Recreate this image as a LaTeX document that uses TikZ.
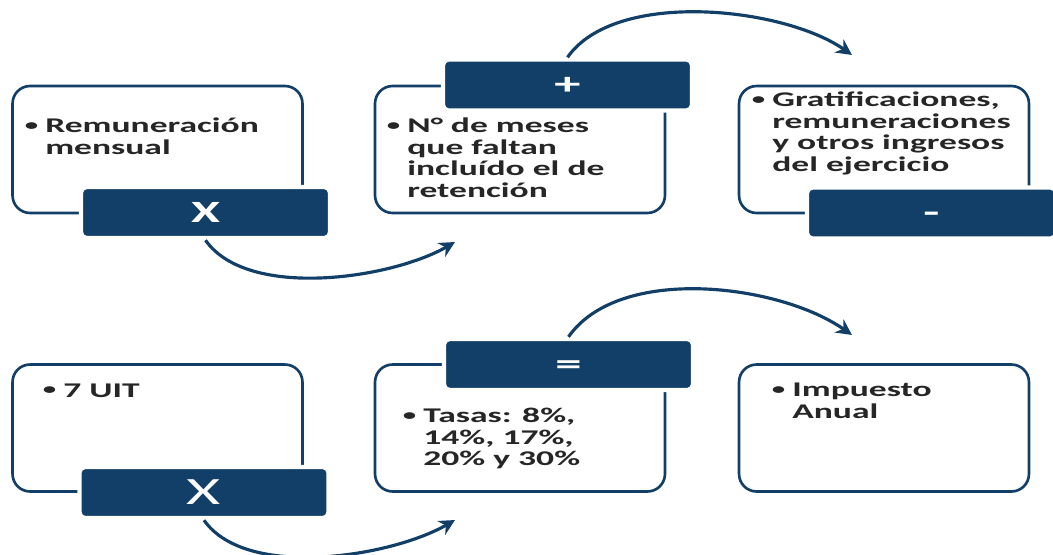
\documentclass[tikz,border=0pt]{standalone}
\usepackage{fontspec}
\setmainfont[FakeStretch=1.7]{Carlito}
\usepackage{tikz}
\usetikzlibrary{arrows.meta}
\definecolor{navy}{RGB}{18,63,103}
\newcommand\bul{\llap{\raisebox{1.5pt}{\fontsize{9}{9}\selectfont\textbullet}\hspace{4pt}}}
\newcommand\txtfont{\bfseries\fontsize{11.9}{12.2}\selectfont\lineskiplimit-20pt\relax}

\begin{document}
\begin{tikzpicture}[x=0.02cm, y=-0.02cm,
    box/.style={draw=navy, line width=1.5pt, rounded corners=10pt, fill=white,
      minimum width=5.8cm, minimum height=2.54cm},
    bar/.style={fill=navy, draw=white, line width=2.5pt, rounded corners=3pt,
      minimum width=4.98cm, minimum height=1.02cm, inner sep=0pt, text=white,
      text height=11.3pt, text depth=0pt,
      font=\bfseries\fontsize{17.6}{20}\selectfont},
    txt/.style={anchor=base west, align=left, inner sep=0pt, text=black!85,
      font=\txtfont},
    arc/.style={draw=navy, line width=1.8pt, -{Stealth[length=9pt, width=9pt]}}]
  \useasboundingbox (0,0) rectangle (1053,554);

  \node [box] (rem) at (157.5,149.5) {};
  \node [box] (mes) at (520,149.5) {};
  \node [box] (grat) at (884,149.5) {};
  \node [box] (uit) at (157.5,428) {};
  \node [box] (tas) at (520,428) {};
  \node [box] (imp) at (884,428) {};

  \node [txt] (remtxt) at (45,154.4) {\bul Remuneración\\mensual};
  \node [txt] (mestxt) at (407,197.2)
    {\bul N° de meses\\que faltan\\incluído el de\\retención};
  \node [txt] (grattxt) at (772,171.2)
    {\bul Gratificaciones,\\remuneraciones\\y otros ingresos\\del ejercicio};
  \node [txt] (uittxt) at (63,397) {\bul 7 UIT};
  \node [txt] (tastxt) at (423,465.8) {\bul Tasas: 8\%,\\14\%, 17\%,\\20\% y 30\%};
  \node [txt] (imptxt) at (792,418.4) {\bul Impuesto\\Anual};

  \node [bar] (por) at (205.5,212.5) {X};
  \node [bar] (mas) at (567.5,85) {+};
  \node [bar] (menos) at (931.5,213) {-};
  \node [bar, text height=14.2pt, font=\fontsize{22}{24}\selectfont] (por2)
    at (204,492.5) {X};
  \node [bar] (igual) at (568.5,364.5) {=};

  \coordinate (e1) at (455,242);
  \coordinate (e2) at (852,55);
  \coordinate (e3) at (455,520);
  \coordinate (e4) at (852,335);

  \draw [arc] (por.south) to [out=-55, in=210, looseness=0.75] (e1);
  \draw [arc] (mas.north) to [out=55, in=145, looseness=0.75] (e2);
  \draw [arc] (por2.south) to [out=-55, in=210, looseness=0.75] (e3);
  \draw [arc] (igual.north) to [out=55, in=145, looseness=0.8] (e4);
\end{tikzpicture}
\end{document}
